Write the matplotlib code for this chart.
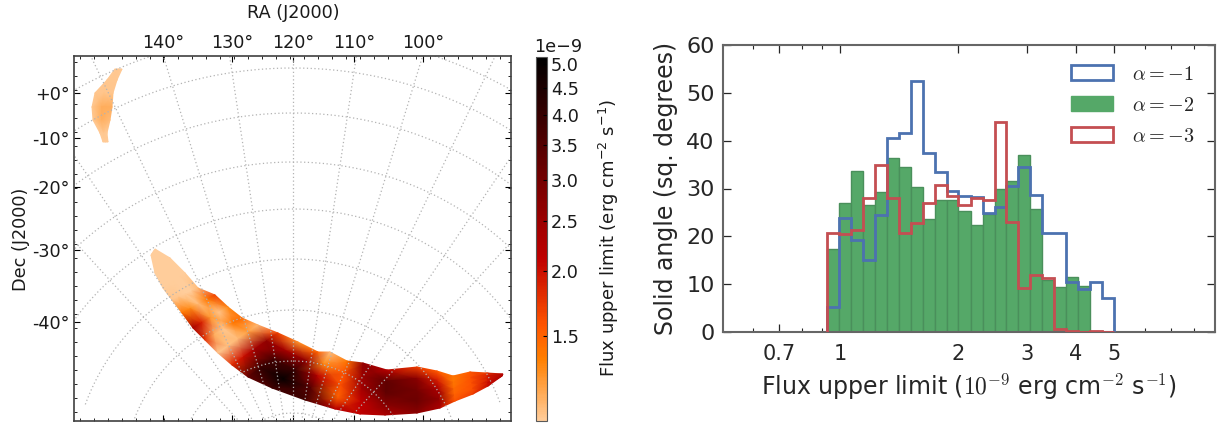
import numpy as np
import matplotlib
matplotlib.use('Agg')
import matplotlib.pyplot as plt
from matplotlib.colors import LinearSegmentedColormap, LogNorm
from matplotlib.cm import ScalarMappable
from matplotlib.patches import Patch
from matplotlib.ticker import FixedLocator, NullFormatter

plt.rcParams['mathtext.fontset'] = 'cm'
W, H = 1219, 424

# histogram, right panel
bin_edges = [0.925, 0.992, 1.065, 1.142, 1.226, 1.315, 1.411, 1.514, 1.625, 1.744, 1.871, 2.007, 2.154,
             2.311, 2.480, 2.661, 2.855, 3.064, 3.287, 3.527, 3.784, 4.061, 4.357, 4.675, 5.017]
alpha1 = [5.3, 23.8, 19.3, 15.0, 24.5, 40.5, 41.7, 52.4, 37.5, 33.4, 29.5, 28.5,
          28.2, 24.8, 26.2, 30.5, 34.5, 28.7, 20.6, 20.6, 10.4, 9.0, 10.4, 7.1]
alpha2 = [17.3, 27.0, 33.6, 26.5, 29.3, 36.3, 34.5, 30.3, 23.6, 27.6, 27.6, 25.2,
          22.3, 24.6, 29.8, 31.5, 37.0, 25.7, 10.9, 9.4, 11.6, 9.6, 0, 0]
alpha3 = [20.7, 20.5, 21.4, 28.0, 35.0, 28.0, 20.8, 22.7, 26.9, 30.8, 28.5, 26.5,
          28.1, 27.5, 44.0, 22.9, 9.3, 11.9, 11.2, 0.7, 0.2, 0.1, 0.2, 0.0]
x_major = [0.7, 1, 2, 3, 4, 5]
x_major_labels = ['0.7', '1', '2', '3', '4', '5']
x_minor = [0.6, 0.8, 0.9, 6, 7, 8]

# map, graticule (pixel positions of the projection centre, ring radii)
ra_lines = [170, 160, 150, 140, 130, 120, 110, 100, 90, 80, 70]
ring_radius = [447, 412, 367, 318, 271, 221, 170, 119, 67]
ra_ticks = [163, 232, 293, 354, 423]
ra_labels = ['140°', '130°', '120°', '110°', '100°']
dec_ticks = [93, 138, 187, 250, 322]
dec_labels = ['+0°', '-10°', '-20°', '-30°', '-40°']

# southern strip: stations along the track, top and bottom edge in pixels
strip_top_x = [155, 170, 185, 198, 215, 228, 242, 258, 278, 298, 318, 330, 347, 363, 387, 417, 437, 453, 470, 487, 503]
strip_top_y = [249, 258, 273, 288, 295, 307, 318, 325, 333, 342, 352, 352, 361, 363, 370, 367, 371, 376, 372, 373, 374]
strip_bot_x = [151, 155, 163, 172, 182, 193, 205, 218, 232, 248, 272, 305, 335, 360, 385, 417, 440, 455, 473, 488, 502]
strip_bot_y = [255, 273, 288, 300, 313, 328, 340, 353, 365, 377, 388, 400, 409, 414, 415, 413, 408, 401, 394, 386, 376]
# flux (1e-9) across the track at each station, top edge to bottom edge
strip_flux = [
    [1.03, 1.03, 1.03, 1.03, 1.03],
    [1.03, 1.03, 1.03, 1.03, 1.03],
    [1.03, 1.03, 1.03, 1.03, 1.03],
    [1.10, 1.03, 1.03, 1.05, 1.05],
    [1.70, 1.40, 1.10, 1.30, 1.40],
    [1.30, 1.05, 1.25, 1.90, 2.40],
    [1.45, 1.40, 1.05, 1.15, 1.80],
    [1.10, 1.20, 1.10, 1.08, 1.05],
    [1.70, 2.60, 2.40, 2.00, 1.80],
    [1.25, 2.40, 3.80, 4.00, 3.20],
    [1.50, 2.60, 4.00, 5.00, 3.80],
    [1.08, 1.30, 2.20, 3.40, 3.80],
    [1.40, 1.60, 1.60, 1.50, 2.20],
    [2.60, 2.50, 2.40, 2.10, 2.10],
    [2.20, 3.30, 3.30, 2.80, 2.30],
    [1.70, 2.70, 3.00, 3.10, 2.70],
    [1.55, 1.90, 2.30, 2.60, 2.30],
    [1.40, 1.40, 1.45, 1.50, 1.60],
    [1.55, 1.60, 1.60, 1.60, 1.70],
    [1.75, 1.90, 1.90, 2.00, 2.00],
    [2.30, 2.30, 2.30, 2.30, 2.30]]

# northern blob
blob_left_x = [115, 107, 95, 92, 93, 100, 103]
blob_left_y = [69, 80, 93, 107, 120, 133, 142]
blob_right_x = [122, 117, 113, 112, 110, 107, 108]
blob_right_y = [69, 80, 93, 107, 120, 133, 142]
blob_flux = [[1.04, 1.05, 1.04], [1.05, 1.05, 1.05], [1.05, 1.06, 1.05], [1.05, 1.16, 1.14],
             [1.05, 1.14, 1.10], [1.04, 1.05, 1.04], [1.04, 1.04, 1.04]]

cbar_ticks = [1.5, 2.0, 2.5, 3.0, 3.5, 4.0, 4.5, 5.0]


def axes_px(fig, left, top, right, bottom):
    return fig.add_axes([left / W, 1 - bottom / H, (right - left) / W, (bottom - top) / H])


def across(a, b, n):
    a, b = np.asarray(a, float), np.asarray(b, float)
    return np.linspace(a, b, n, axis=1)


fig = plt.figure(figsize=(W / 100, H / 100), dpi=100)

# ---- map ----
ax = axes_px(fig, 74, 56, 511, 421)
cmap = LinearSegmentedColormap.from_list('heat', plt.cm.gist_heat_r(np.linspace(0.1, 1, 256)))
norm = LogNorm(vmin=1.03, vmax=5.16)

X = across(strip_top_x, strip_bot_x, 5)
Y = across(strip_top_y, strip_bot_y, 5)
ax.pcolormesh(X, Y, np.array(strip_flux), shading='gouraud', cmap=cmap, norm=norm, zorder=1)
X = across(blob_left_x, blob_right_x, 3)
Y = across(blob_left_y, blob_right_y, 3)
ax.pcolormesh(X, Y, np.array(blob_flux), shading='gouraud', cmap=cmap, norm=norm, zorder=1)

# graticule
xc, yc = 293, 480
for ra in ra_lines:
    th = np.radians((ra - 120) * 0.85)
    r = np.linspace(40, 520, 60)
    ax.plot(xc + r * np.sin(th), yc - r * np.cos(th), ls=(0, (1, 2)), color='0.7', lw=0.9, zorder=2)
for r in ring_radius:
    th = np.radians(np.linspace(-70, 70, 200))
    ax.plot(xc + r * np.sin(th), yc - r * np.cos(th), ls=(0, (1, 2)), color='0.7', lw=0.9, zorder=2)

ax.set_xlim(74, 511)
ax.set_ylim(421, 56)
ax.xaxis.tick_top()
ax.set_xticks(ra_ticks)
ax.set_xticklabels(ra_labels, fontsize=12.7, color='0.1')
ax.set_yticks(dec_ticks)
ax.set_yticklabels(dec_labels, fontsize=12.7, color='0.1')
ax.xaxis.set_minor_locator(FixedLocator(np.arange(80, 511, 14)))
ax.yaxis.set_minor_locator(FixedLocator(np.arange(62, 421, 14)))
ax.tick_params(which='major', direction='in', length=4, width=0.8, top=True, bottom=True, left=True, right=True)
ax.tick_params(which='minor', direction='in', length=2, width=0.6, top=True, bottom=True, left=True, right=True)
ax.tick_params(axis='both', which='major', pad=3)
for s in ax.spines.values():
    s.set_color('0.25')
    s.set_linewidth(1.2)
fig.text(293 / W, 1 - 13 / H, 'RA (J2000)', ha='center', va='center', fontsize=12.7, color='0.1')
fig.text(21 / W, 1 - 239 / H, 'Dec (J2000)', ha='center', va='center', rotation=90, fontsize=12.7, color='0.1')

# ---- colorbar ----
cax = axes_px(fig, 536, 57, 547, 421)
cb = fig.colorbar(ScalarMappable(norm=norm, cmap=cmap), cax=cax)
cb.minorticks_off()
cb.set_ticks(cbar_ticks)
cb.set_ticklabels(['%.1f' % t for t in cbar_ticks])
cb.ax.tick_params(length=3, width=0.8, direction='in', labelsize=12.7, pad=3, labelcolor='0.1')
cb.outline.set_edgecolor('0.35')
fig.text(534 / W, 1 - 47 / H, '1e\u22129', ha='left', va='center', fontsize=12.7, color='0.1')
fig.text(609 / W, 1 - 238 / H, 'Flux upper limit (erg cm$^{-2}$ s$^{-1}$)', rotation=90, ha='center', va='center',
         fontsize=13, color='0.1', math_fontfamily='dejavusans')

# ---- histogram ----
ah = axes_px(fig, 723, 45, 1215, 332)
blue, green, red = '#4c72b0', '#55a868', '#c44e52'
edges = np.array(bin_edges)
ah.stairs(alpha1, edges, color=blue, lw=2, zorder=3)
ah.bar(edges[:-1], alpha2, width=np.diff(edges), align='edge', color=green, edgecolor='#4a8f5b', lw=1, zorder=2)
ah.stairs(alpha3, edges, color=red, lw=2, zorder=4)
ah.set_xscale('log')
ah.set_xlim(0.503, 9.06)
ah.set_ylim(0, 60)
ah.xaxis.set_major_locator(FixedLocator(x_major))
ah.set_xticklabels(x_major_labels)
ah.xaxis.set_minor_locator(FixedLocator(x_minor))
ah.xaxis.set_minor_formatter(NullFormatter())
ah.tick_params(which='major', direction='in', length=6, width=0.9, top=True, right=True, labelsize=15,
               labelcolor='0.15', color='0.15', pad=9)
ah.tick_params(which='minor', direction='in', length=3, width=0.8, top=True, color='0.15')
ah.tick_params(axis='y', labelsize=16, pad=6)
ah.set_xlabel('Flux upper limit ($10^{-9}$ erg cm$^{-2}$ s$^{-1}$)', fontsize=17, color='0.15', labelpad=5)
ah.set_ylabel('Solid angle (sq. degrees)', fontsize=17, color='0.15', labelpad=6)
for s in ah.spines.values():
    s.set_color('0.4')
    s.set_linewidth(1.5)
handles = [Patch(facecolor='white', edgecolor=blue, lw=2),
           Patch(facecolor=green, edgecolor=green, lw=1),
           Patch(facecolor='white', edgecolor=red, lw=2)]
leg = ah.legend(handles, [r'$\alpha = -1$', r'$\alpha = -2$', r'$\alpha = -3$'], loc='upper left', frameon=False,
                fontsize=14.5, handlelength=2.1, handleheight=0.8, labelspacing=0.6, handletextpad=0.95,
                bbox_to_anchor=(0.67, 0.995), labelcolor='0.15')

fig.savefig('out.png', dpi=100)
